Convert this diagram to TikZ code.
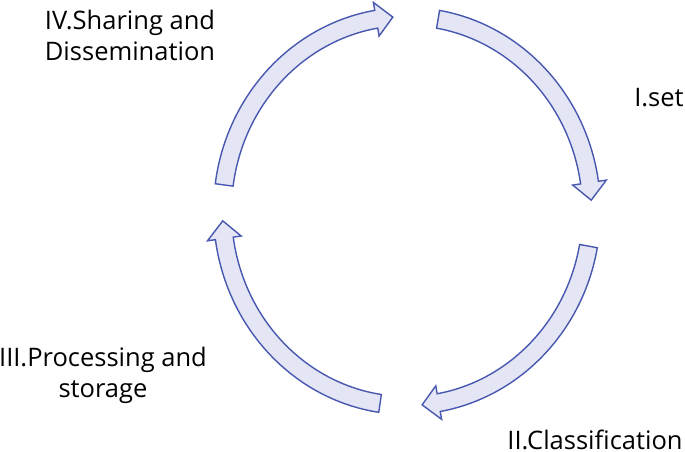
\documentclass[tikz,border=0pt]{standalone}
\usepackage{fontspec}
\setmainfont{Open Sans}
\usetikzlibrary{positioning}

\definecolor{arrowfill}{RGB}{228,230,245}
\definecolor{arrowline}{RGB}{72,88,176}

% one curved block arrow on the cycle, clockwise from angle #1 to angle #2
\newcommand{\cyclearrow}[2]{%
  \pgfmathsetmacro{\headang}{#2+5.2}
  \draw[blockarrow] (#1:193.5 and 203.5)
    arc[start angle=#1, end angle=\headang, x radius=193.5, y radius=203.5]
    -- (\headang:201.5 and 211.5) -- (#2:184.5 and 194.5) -- (\headang:167.5 and 177.5)
    -- (\headang:175.5 and 185.5)
    arc[start angle=\headang, end angle=#1, x radius=175.5, y radius=185.5] -- cycle;
}

\begin{document}
\begin{tikzpicture}[x=1pt,y=1pt,
    blockarrow/.style={draw=arrowline,fill=arrowfill,line width=1.4pt,line join=miter},
    steplabel/.style={align=center,font=\fontsize{25.5}{31}\selectfont,inner sep=0pt}]
  \useasboundingbox (-407,-240) rectangle (278,211);

  \cyclearrow{172.3}{94.4}
  \cyclearrow{80.3}{3.2}
  \cyclearrow{-10.4}{-85.3}
  \cyclearrow{-98.4}{-177.1}

  \node[steplabel] (set)      at (252,113.5)  {I.set};
  \node[steplabel] (classify) at (188,-229)   {II.Classification};
  \node[steplabel] (process)  at (-304,-164)  {III.Processing and\\storage};
  \node[steplabel] (share)    at (-277,176)   {IV.Sharing and\\Dissemination};
\end{tikzpicture}
\end{document}
